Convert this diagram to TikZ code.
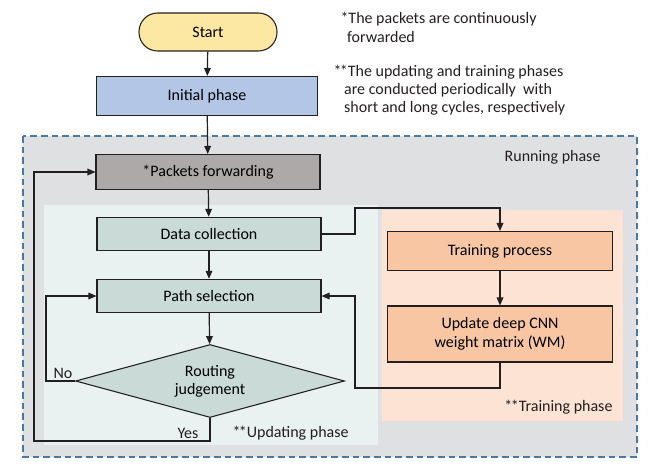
\documentclass[tikz,border=0pt]{standalone}
\usepackage{fontspec}
\setmainfont{Carlito}
\usetikzlibrary{shapes.geometric,arrows.meta}

\definecolor{startfill}{HTML}{FCE8A2}
\definecolor{initfill}{HTML}{B4C6E6}
\definecolor{fwdfill}{HTML}{ADA9A8}
\definecolor{updfill}{HTML}{C9DAD7}
\definecolor{updregion}{HTML}{E9F1F1}
\definecolor{trnregion}{HTML}{FCE3D3}
\definecolor{trnfill}{HTML}{F8C6A3}
\definecolor{runregion}{HTML}{DFE0E2}
\definecolor{runborder}{HTML}{4A77A6}
\definecolor{inkline}{HTML}{231F20}

\newcommand{\dstar}{*\kern-1.2pt*}

\tikzset{every picture/.style={line width=0.75pt}}
\tikzset{
  procbox/.style={draw=inkline, line width=0.8pt, minimum width=168pt, minimum height=25pt, inner sep=0pt, font=\fontsize{12}{14}\selectfont},
  flow/.style={draw=inkline, line width=0.9pt, -{Triangle[length=6pt,width=5pt]}},
  plain/.style={font=\fontsize{12}{14}\selectfont, text=inkline, inner sep=0pt}
}

\begin{document}
\begin{tikzpicture}[x=0.75pt,y=0.75pt,yscale=-1,xscale=1]
	\useasboundingbox (0,0) rectangle (656,468);

	%Shape: Rectangle running phase
	\draw [draw=runborder, fill=runregion, line width=1pt, dash pattern=on 5pt off 3pt] (23,136) rectangle (637,457) ;
	%Shape: Rectangle updating phase
	\fill [updregion] (44,205) rectangle (378,445) ;
	%Shape: Rectangle training phase
	\fill [trnregion] (382,210) rectangle (623,421) ;

	% Start
	\node [draw=inkline, fill=startfill, line width=0.8pt, rounded corners=14pt, minimum width=103.5pt, minimum height=28.5pt, font=\fontsize{12}{14}\selectfont] (start) at (208,32) {Start};
	% Initial phase
	\node [procbox, fill=initfill, minimum width=165.75pt, minimum height=29.25pt] (init) at (207,96) {Initial phase};
	% Packets forwarding
	\node [procbox, fill=fwdfill, minimum height=26.25pt] (fwd) at (208,172) {*Packets forwarding};
	% Data collection
	\node [procbox, fill=updfill] (data) at (209,234) {Data collection};
	% Path selection
	\node [procbox, fill=updfill] (path) at (209,296) {Path selection};
	% Routing judgement
	\node [draw=inkline, fill=updfill, line width=0.8pt, diamond, aspect=3.7, inner sep=0pt, minimum width=201.75pt, minimum height=54.75pt, align=center, font=\fontsize{12}{13.5}\selectfont] (judge) at (210,381) {Routing\\judgement};
	% Training process
	\node [procbox, fill=trnfill, minimum width=168.75pt, minimum height=29.25pt] (train) at (500,251) {Training process};
	% Update deep CNN
	\node [procbox, fill=trnfill, minimum width=168.75pt, minimum height=42pt, align=center] (wm) at (500,334) {Update deep CNN\\weight matrix (WM)};

	% corner points
	\coordinate (yesL) at (34,441);
	\coordinate (noL) at (46,381);
	\coordinate (dataR) at (355,208);
	\coordinate (wmB) at (355,388);

	% Connectors
	\draw [flow] (start) -- (init);
	\draw [flow] (init) -- (fwd);
	\draw [flow] (fwd) -- (data);
	\draw [flow] (data) -- (path);
	\draw [flow] (path) -- (judge);
	\draw [flow] (judge.south) |- (yesL) |- (fwd.west);
	\draw [flow] (judge.west) -- (noL) |- (path.west);
	\draw [flow] (data.east) -| (dataR) -| (train.north);
	\draw [flow] (train) -- (wm);
	\draw [flow] (wm.south) |- (wmB) |- (path.east);

	% Text Node
	\node [plain, anchor=west] (nolbl) at (53,373) {No};
	% Text Node
	\node [plain, anchor=west] (yeslbl) at (177,433) {Yes};
	% Text Node
	\node [plain, anchor=west] (updlbl) at (232,433) {\dstar Updating phase};
	% Text Node
	\node [plain, anchor=east] (trnlbl) at (613,407) {\dstar Training phase};
	% Text Node
	\node [plain, anchor=east] (runlbl) at (601,157) {Running phase};
	% Text Node
	\node [plain, anchor=north west, align=left, font=\fontsize{12}{14}\selectfont] (note1) at (340,12) {*The packets are continuously\\\hspace*{5pt}forwarded};
	% Text Node
	\node [plain, anchor=north west, align=left, font=\fontsize{12}{13.5}\selectfont] (note2) at (333,65) {\dstar The updating and training phases\\\hspace*{8pt}are conducted periodically\ \ with\\\hspace*{8pt}short and long cycles, respectively};

\end{tikzpicture}
\end{document}
